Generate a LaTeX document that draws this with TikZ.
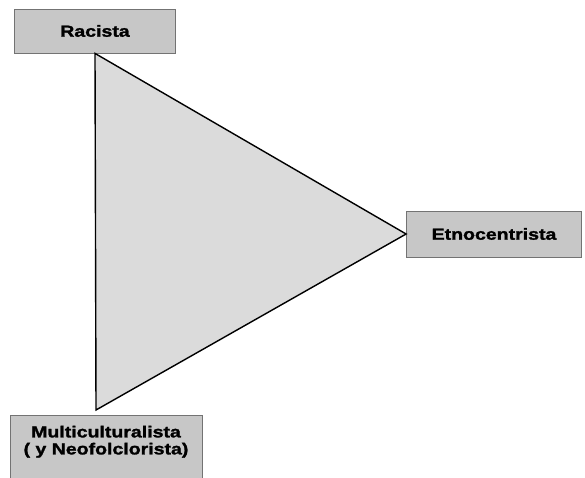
\documentclass[tikz,border=0pt]{standalone}
\usepackage{fontspec}
\setmainfont{Liberation Sans}[FakeStretch=1.22, BoldFeatures={FakeBold=1.6}]
\tikzset{
  labelbox/.style={rectangle, draw=black!55, fill=black!22, line width=0.8pt, font=\fontsize{16}{17}\selectfont\bfseries, inner sep=0pt, align=center},
  triface/.style={draw=black, fill=black!14, line width=1.4pt, line join=miter}
}

\begin{document}
\begin{tikzpicture}[x=1pt, y=-1pt]
  \useasboundingbox (0,0) rectangle (585,478);
  \clip (0,0) rectangle (585,478);
  \node[labelbox, minimum width=161pt, minimum height=44pt] (racista) at (95,31) {Racista};
  \node[labelbox, minimum width=175pt, minimum height=46pt] (etno) at (494,234) {Etnocentrista};
  % box runs off the bottom edge
  \node[labelbox, minimum width=192pt, text height=39pt, text depth=30pt, anchor=north] (multi) at (106,415) {Multiculturalista\\( y Neofolclorista)};
  \coordinate (bot) at (96,410);
  \draw[triface] (racista.south) -- (etno.west) -- (bot) -- cycle;
\end{tikzpicture}
\end{document}
